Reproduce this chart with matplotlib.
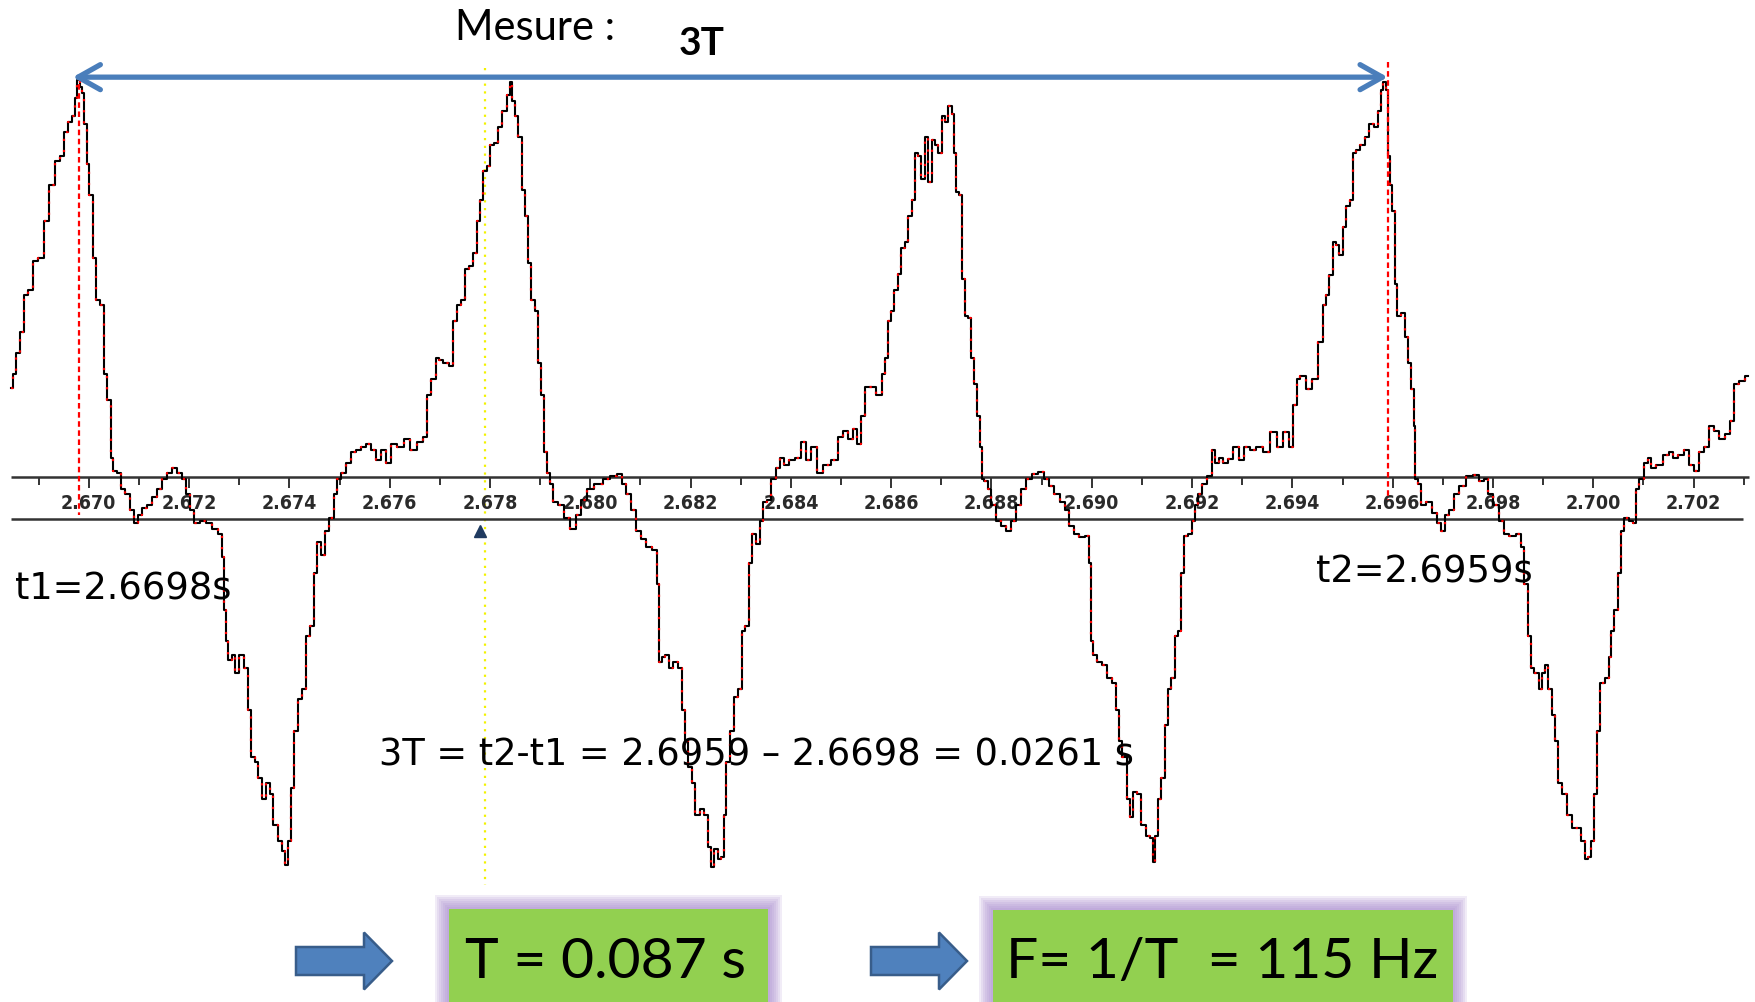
import numpy as np
import matplotlib
matplotlib.use("Agg")
import matplotlib.pyplot as plt
from matplotlib import font_manager
from matplotlib.patches import Rectangle, Polygon
from matplotlib.transforms import Affine2D

# ---------------------------------------------------------------
# donnees lues sur la capture de l'oscillogramme
# ---------------------------------------------------------------
T0 = 2.670  # s ; les temps ci-dessous sont en ms apres T0

t_ms = [
    -1.553, -1.487, -1.42, -1.32, -1.253, -1.153, -1.087, -0.953, -0.853, -0.72,
    -0.62, -0.52, -0.453, -0.387, -0.287, -0.253, -0.2, -0.153, -0.107, -0.067,
    -0.02, 0.047, 0.113, 0.18, 0.267, 0.333, 0.4, 0.467, 0.513, 0.613,
    0.68, 0.78, 0.847, 0.947, 1.013, 1.113, 1.213, 1.313, 1.413, 1.513,
    1.613, 1.713, 1.813, 1.913, 1.98, 2.047, 2.147, 2.28, 2.413, 2.513,
    2.627, 2.68, 2.713, 2.747, 2.813, 2.88, 2.947, 3.047, 3.147, 3.213,
    3.267, 3.347, 3.413, 3.493, 3.58, 3.647, 3.713, 3.813, 3.88, 3.933,
    4.0, 4.047, 4.133, 4.213, 4.293, 4.36, 4.447, 4.533, 4.58, 4.68,
    4.747, 4.847, 4.913, 4.98, 5.08, 5.18, 5.28, 5.38, 5.48, 5.58,
    5.68, 5.78, 5.88, 5.98, 6.08, 6.213, 6.347, 6.48, 6.613, 6.713,
    6.78, 6.88, 6.98,
    7.003, 7.136, 7.236, 7.302, 7.369, 7.468, 7.535, 7.634, 7.701, 7.767,
    7.834, 7.9, 7.967, 8.033, 8.133, 8.199, 8.299, 8.366, 8.412, 8.465,
    8.532, 8.598, 8.665, 8.731, 8.798, 8.851, 8.931, 8.997, 9.05, 9.117,
    9.164, 9.23, 9.297, 9.43, 9.529, 9.649, 9.762, 9.862, 9.995, 10.161,
    10.327, 10.46, 10.593, 10.66, 10.759, 10.859, 10.959, 11.059, 11.158, 11.291,
    11.358, 11.391, 11.457, 11.524, 11.604, 11.69, 11.79, 11.856, 11.91, 11.989,
    12.056, 12.136, 12.222, 12.322, 12.375, 12.441, 12.508, 12.588, 12.641, 12.687,
    12.733, 12.82, 12.907, 12.987, 13.053, 13.133, 13.2, 13.266, 13.352, 13.418,
    13.485, 13.551, 13.651, 13.751, 13.817, 13.917, 14.017, 14.15, 14.25, 14.35,
    14.45, 14.583, 14.716, 14.883, 14.981, 15.082, 15.182, 15.282, 15.368, 15.435,
    15.501, 15.614, 15.774,
    15.84, 15.894, 15.96, 16.027, 16.093, 16.16, 16.226, 16.306, 16.372, 16.439,
    16.505, 16.572, 16.625, 16.705, 16.771, 16.838, 16.904, 16.971, 17.037, 17.104,
    17.17, 17.237, 17.27, 17.316, 17.403, 17.436, 17.489, 17.569, 17.622, 17.669,
    17.735, 17.789, 17.822, 17.888, 17.955, 18.035, 18.134, 18.234, 18.354, 18.434,
    18.533, 18.633, 18.733, 18.866, 19.0, 19.098, 19.198, 19.298, 19.418, 19.497,
    19.597, 19.697, 19.797, 19.93, 19.963, 19.996, 20.062, 20.162, 20.262, 20.362,
    20.461, 20.515, 20.561, 20.661, 20.727, 20.794, 20.86, 20.927, 21.027, 21.126,
    21.193, 21.239, 21.293, 21.346, 21.426, 21.479, 21.545, 21.625, 21.678, 21.758,
    21.811, 21.878, 21.957, 22.037, 22.077, 22.144, 22.257, 22.356, 22.423, 22.503,
    22.569, 22.656, 22.756, 22.889, 22.989, 23.088, 23.208, 23.321, 23.487, 23.62,
    23.753, 23.886, 23.986, 24.052, 24.118, 24.205, 24.318, 24.451,
    24.57, 24.637, 24.704, 24.77, 24.837, 24.904, 24.97, 25.037, 25.103, 25.189,
    25.236, 25.303, 25.402, 25.502, 25.569, 25.668, 25.735, 25.787, 25.834, 25.88,
    25.92, 25.967, 26.013, 26.066, 26.12, 26.213, 26.279, 26.346, 26.399, 26.432,
    26.465, 26.532, 26.598, 26.731, 26.851, 26.918, 26.997, 27.077, 27.164, 27.263,
    27.396, 27.529, 27.662, 27.762, 27.862, 27.928, 28.061, 28.161, 28.261, 28.394,
    28.527, 28.593, 28.66, 28.726, 28.779, 28.859, 28.959, 29.005, 29.072, 29.138,
    29.205, 29.271, 29.338, 29.424, 29.524, 29.624, 29.724, 29.79, 29.87, 29.937,
    29.99, 30.056, 30.109, 30.176, 30.289, 30.335, 30.388, 30.455, 30.522, 30.588,
    30.655, 30.754, 30.821, 30.887, 30.954, 31.053, 31.12, 31.2, 31.319, 31.452,
    31.552, 31.638, 31.751, 31.851, 31.951, 32.051, 32.15, 32.25, 32.35, 32.45,
    32.55, 32.683, 32.769, 32.849, 32.949, 33.082,
]

amp = [
    26.1, 29.6, 34.6, 39.6, 48.4, 49.6, 56.5, 57.1, 65.9, 74.6,
    80.3, 81.5, 87.1, 89.6, 90.9, 95.3, 99.6, 97.8, 96.5, 89.0,
    79.6, 72.1, 57.1, 47.1, 45.9, 29.6, 23.4, 9.6, 6.5, 5.9,
    2.1, 0.9, -2.9, -6.0, -4.1, -2.3, -1.6, 0.3, 2.1, 4.6,
    5.9, 7.1, 5.9, 4.6, 0.9, -2.9, -6.0, -5.4, -6.0, -7.3,
    -8.5, -14.1, -26.6, -34.1, -38.5, -37.3, -41.6, -37.3, -40.4, -50.4,
    -61.6, -62.9, -66.6, -71.6, -67.9, -70.4, -77.9, -81.6, -84.1, -87.3,
    -81.6, -69.1, -55.4, -47.9, -45.4, -32.9, -30.4, -17.9, -10.4, -13.5,
    -7.9, -4.8, 0.9, 4.6, 5.9, 8.4, 10.9, 11.5, 12.1, 12.8,
    11.5, 9.0, 11.5, 8.4, 12.8, 12.1, 14.0, 11.5, 13.4, 14.6,
    24.6, 28.4, 33.4,
    32.8, 32.1, 31.5, 42.1, 45.9, 47.1, 54.6, 55.3, 58.4, 65.9,
    70.9, 77.8, 79.0, 84.0, 84.6, 88.4, 92.1, 95.9, 99.0, 94.6,
    90.9, 85.9, 73.4, 67.1, 55.9, 47.1, 44.6, 32.1, 24.6, 10.9,
    5.9, 3.4, -1.0, -1.6, -4.8, -7.3, -4.1, -0.4, 2.1, 3.4,
    4.6, 5.3, 5.6, 3.4, 0.9, -2.9, -7.9, -9.8, -11.6, -12.3,
    -20.4, -39.1, -37.9, -37.3, -40.4, -39.1, -40.4, -50.4, -57.9, -64.1,
    -67.9, -75.4, -74.1, -75.4, -83.0, -87.9, -83.5, -86.0, -85.4, -75.4,
    -62.9, -55.4, -47.3, -45.4, -31.6, -30.4, -15.4, -8.5, -11.0, -5.4,
    -1.0, -0.4, 4.6, 7.1, 9.6, 7.8, 9.0, 9.6, 13.4, 9.0,
    12.1, 5.9, 7.8, 9.0, 14.6, 15.9, 14.0, 16.5, 12.8, 19.6,
    26.5, 26.5, 24.6,
    29.6, 33.4, 42.1, 44.6, 49.6, 53.4, 59.6, 60.9, 67.1, 70.9,
    82.1, 81.5, 75.9, 85.9, 75.3, 85.3, 84.0, 82.1, 90.9, 89.6,
    93.4, 91.5, 82.1, 72.8, 72.1, 52.1, 43.4, 42.8, 33.4, 27.1,
    19.6, 12.1, 4.6, 4.0, 2.1, -1.6, -5.4, -6.6, -7.9, -5.4,
    -1.6, 2.1, 4.6, 5.6, 6.1, 4.6, 2.8, 0.9, -1.0, -2.9,
    -6.6, -8.5, -9.4, -9.1, -15.4, -34.1, -37.3, -39.1, -39.8, -42.9,
    -44.1, -50.4, -57.9, -61.6, -71.6, -76.0, -69.9, -70.4, -77.9, -80.4,
    -81.0, -86.6, -80.4, -71.6, -66.6, -54.1, -45.4, -42.9, -32.9, -31.6,
    -17.9, -9.1, -8.5, -5.4, -1.6, 0.9, 3.4, 5.3, 11.5, 8.4,
    9.6, 8.4, 9.4, 12.1, 9.0, 12.1, 11.5, 12.1, 10.9, 15.6,
    12.1, 15.6, 12.1, 22.1, 28.4, 29.0, 25.9, 28.4,
    37.1, 45.9, 48.4, 53.1, 60.9, 60.3, 57.8, 64.6, 69.6, 70.9,
    82.1, 82.9, 84.1, 85.9, 89.0, 88.4, 92.1, 97.1, 99.0, 97.1,
    81.5, 74.6, 68.4, 50.9, 43.4, 44.0, 38.4, 32.1, 25.9, 17.1,
    4.6, 3.4, -1.6, -1.0, -3.5, -6.0, -7.9, -4.1, -2.9, 0.9,
    2.8, 5.3, 5.5, 4.0, 4.6, 0.9, -1.6, -5.4, -8.5, -9.1,
    -8.5, -11.6, -20.4, -32.9, -40.4, -41.6, -45.4, -41.6, -39.8, -45.4,
    -51.6, -57.9, -67.9, -70.4, -75.4, -78.5, -78.5, -81.6, -86.0, -85.4,
    -81.6, -70.4, -55.4, -44.1, -42.9, -37.9, -31.6, -26.6, -17.9, -7.9,
    -4.8, -5.4, -6.0, 2.1, 4.6, 8.4, 9.6, 7.1, 7.8, 10.3,
    10.9, 9.6, 10.3, 11.5, 7.8, 6.5, 10.9, 12.1, 17.1, 15.9,
    14.0, 15.3, 18.4, 27.1, 27.8, 29.0,
]

major_labels = ["2.670", "2.672", "2.674", "2.676", "2.678", "2.680", "2.682",
                "2.684", "2.686", "2.688", "2.690", "2.692", "2.694", "2.696",
                "2.698", "2.700", "2.702"]
minor_ticks = [2.669, 2.671, 2.673, 2.675, 2.677, 2.679, 2.681, 2.683, 2.685,
               2.687, 2.689, 2.691, 2.693, 2.695, 2.697, 2.699, 2.701, 2.703]

t1, t2 = 2.6698, 2.6959       # curseurs de mesure
t_cursor = 2.67791            # curseur jaune du logiciel
t_marker = 2.6778

W, H = 1756, 1002
fig = plt.figure(figsize=(W / 100, H / 100), dpi=100)
fig.patch.set_facecolor("white")

# transformation "pixels de l'image" -> figure (origine en haut a gauche)
pix = Affine2D().scale(1 / W, -1 / H).translate(0, 1) + fig.transFigure

ax = fig.add_axes([0, 0, 1, 1])
ax.set_xlim(2.6682293, 2.7032443)
ax.set_ylim(-120.0, 118.57)
ax.axis("off")

# police etroite pour les graduations si elle existe
installed = {f.name for f in font_manager.fontManager.ttflist}
if "Liberation Sans Narrow" in installed:
    tick_font = dict(family="Liberation Sans Narrow", fontsize=17)
elif "DejaVu Sans Condensed" in installed:
    tick_font = dict(family="DejaVu Sans Condensed", fontsize=14.5)
else:
    tick_font = dict(family="DejaVu Sans", fontstretch="condensed", fontsize=14)

# -------- bande de l'axe des temps --------
band_col = "#333333"
ax.hlines(5.0, 2.668449, 2.703105, color=band_col, lw=1.8, zorder=2)
ax.hlines(-5.0, 2.668449, 2.702985, color=band_col, lw=1.8, zorder=2)
major_ticks = [float(s) for s in major_labels]
ax.vlines(major_ticks, 2.4, 5.0, color=band_col, lw=1.4, zorder=2)
ax.vlines(minor_ticks, 3.2, 5.0, color=band_col, lw=1.4, zorder=2)
for t, lab in zip(major_ticks, major_labels):
    ax.text(t, -1.4, lab, ha="center", va="center", fontweight="bold",
            color="#2a2a2a", zorder=2, **tick_font)

# -------- curseur jaune + triangle --------
ax.plot([t_cursor, t_cursor], [102.4, -92.1], color="#F2F200", lw=1.6,
        ls=(0, (1, 2.5)), zorder=1)
ax.plot(t_marker, -7.9, marker="^", ms=9, color="#1F3A60", zorder=3)

# -------- signal --------
t = T0 + np.array(t_ms) / 1000.0
a = np.array(amp)
ax.plot(t, a, color="black", lw=1.5, drawstyle="steps-mid", zorder=4)
ax.plot(t, a, color="red", lw=1.6, drawstyle="steps-mid",
        ls=(0, (1, 4)), zorder=5)

# -------- curseurs rouges et fleche 3T --------
ax.plot([t1, t1], [100.7, -4.0], color="red", lw=1.6, ls=(0, (2.5, 1.6)), zorder=6)
ax.plot([t2, t2], [103.8, -0.5], color="red", lw=1.6, ls=(0, (2.5, 1.6)), zorder=6)
ax.annotate("", xy=(2.66968, 100.2), xytext=(2.69590, 100.2),
            arrowprops=dict(arrowstyle="<->,head_length=0.8,head_width=0.45",
                            color="#4A7EBB", lw=3.8, mutation_scale=20,
                            shrinkA=0, shrinkB=0, capstyle="round"),
            zorder=7)

# -------- textes --------
fig.text(455, 40, "Mesure :", transform=pix, fontsize=30, family="Lato",
         va="baseline", ha="left")
fig.text(702, 55, "3T", transform=pix, fontsize=28, family="Lato",
         fontweight="bold", va="baseline", ha="center")
fig.text(15, 600, "t1=2.6698s", transform=pix, fontsize=26.5,
         family="DejaVu Sans", va="baseline", ha="left", zorder=8)
fig.text(1316, 583, "t2=2.6959s", transform=pix, fontsize=26.5,
         family="DejaVu Sans", va="baseline", ha="left", zorder=8)
fig.text(379, 766, "3T = t2-t1 = 2.6959 \u2013 2.6698 = 0.0261 s", transform=pix,
         fontsize=26.5, family="DejaVu Sans", va="baseline", ha="left", zorder=8)


# -------- encadres resultat --------
def result_box(x0, x1, y0, label, cx):
    for i in range(7):
        pad = 2 + 2 * i
        fig.patches.append(Rectangle((x0 - pad, y0 - pad), x1 - x0 + 2 * pad,
                                     H + 20 - y0 + pad, transform=pix,
                                     facecolor="#A98BD0", edgecolor="none",
                                     alpha=0.16, zorder=1))
    fig.patches.append(Rectangle((x0, y0), x1 - x0, H + 20 - y0, transform=pix,
                                 facecolor="#92D050", edgecolor="none", zorder=2))
    fig.text(cx, 978, label, transform=pix, fontsize=41, family="Lato",
             ha="center", va="baseline", zorder=3)


def block_arrow(x0, xn, xt, yc):
    verts = [(x0, yc - 14), (xn, yc - 14), (xn, yc - 28.5), (xt, yc),
             (xn, yc + 28.5), (xn, yc + 14), (x0, yc + 14)]
    fig.patches.append(Polygon(verts, closed=True, transform=pix,
                               facecolor="#4F81BD", edgecolor="#385D8A",
                               lw=1.8, zorder=2))


block_arrow(296, 364, 392, 961)
block_arrow(871, 939, 967, 961)
result_box(449, 768, 909, "T = 0.087 s", 606)
result_box(993, 1453, 910, "F= 1/T  = 115 Hz", 1222)

fig.savefig("out.png", dpi=100, facecolor="white")
